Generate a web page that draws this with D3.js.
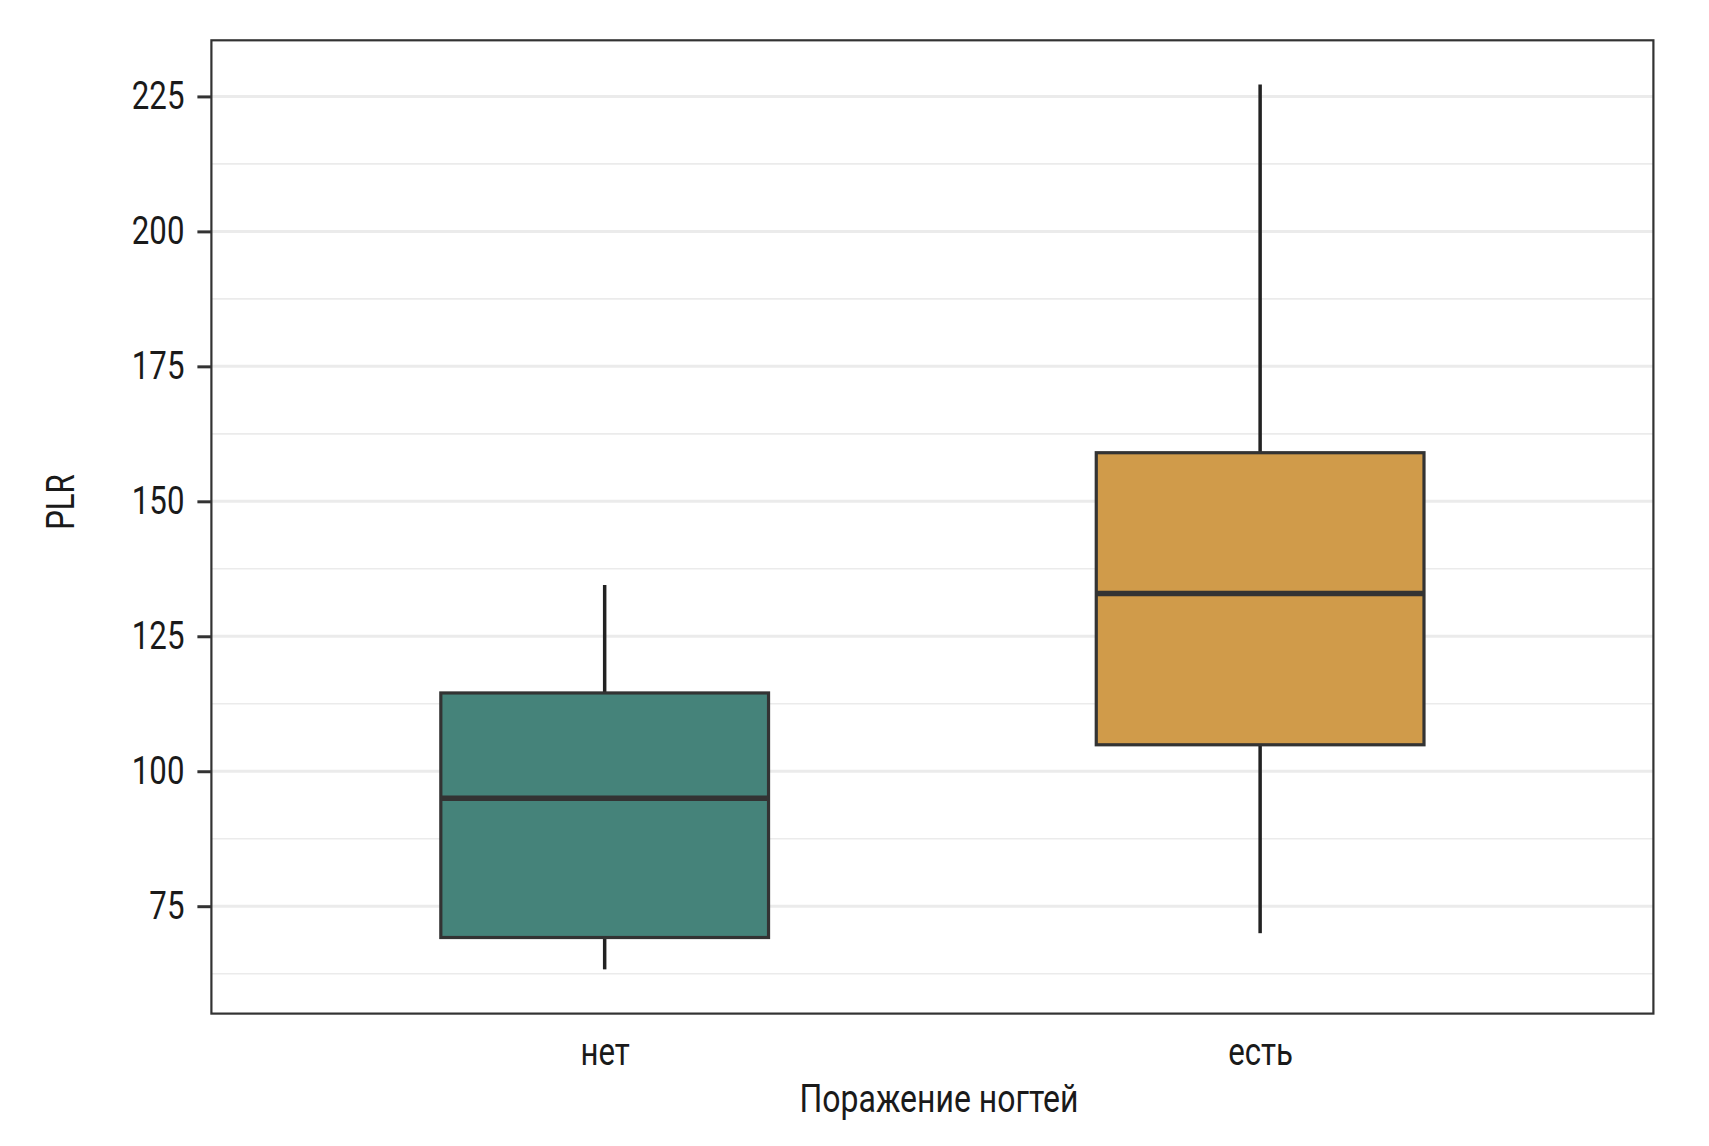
<!DOCTYPE html>
<html>
<head>
<meta charset="utf-8">
<script src="https://cdn.jsdelivr.net/npm/d3@7"></script>
<style>
  html, body { margin: 0; padding: 0; background: #ffffff; }
  svg { display: block; }
  text { font-family: Roboto, "Liberation Sans", sans-serif; fill: #1a1a1a; }
</style>
</head>
<body>
<script>
// ---- data ----
const categories = ["нет", "есть"];
const whiskerLow  = [63.3, 70.0];
const q1          = [69.2, 104.9];
const median      = [95.0, 132.9];
const q3          = [114.5, 159.0];
const whiskerHigh = [134.5, 227.2];
const fillColors  = ["#45837a", "#d09b4a"];
const yTicks      = [75, 100, 125, 150, 175, 200, 225];
const yMinorTicks = [62.5, 87.5, 112.5, 137.5, 162.5, 187.5, 212.5, 237.5];
const xTitle = "Поражение ногтей";
const yTitle = "PLR";

// ---- layout ----
const W = 1709, H = 1146;
const pLeft = 211.4, pRight = 1653.4, pTop = 40.3, pBottom = 1013.6;
const SX = 0.8;      // horizontal condensing of text
const FS = 39;

const svg = d3.select("body").append("svg").attr("width", W).attr("height", H);

const lo = d3.min(whiskerLow), hi = d3.max(whiskerHigh);
const pad = (hi - lo) * 0.05;
const y = d3.scaleLinear().domain([lo - pad, hi + pad]).range([pBottom, pTop]);
const x = d3.scalePoint().domain(categories).range([pLeft, pRight]).padding(0.6);
const boxW = x.step() * 0.5;

// panel grid
const g = svg.append("g");
g.selectAll("line.minor").data(yMinorTicks.filter(v => y(v) > pTop && y(v) < pBottom)).join("line")
  .attr("class", "minor")
  .attr("x1", pLeft).attr("x2", pRight)
  .attr("y1", d => y(d)).attr("y2", d => y(d))
  .attr("stroke", "#ebebeb").attr("stroke-width", 1.6);
g.selectAll("line.major").data(yTicks).join("line")
  .attr("class", "major")
  .attr("x1", pLeft).attr("x2", pRight)
  .attr("y1", d => y(d)).attr("y2", d => y(d))
  .attr("stroke", "#ebebeb").attr("stroke-width", 3);

// boxes
const idx = d3.range(categories.length);
const boxes = svg.append("g");
boxes.selectAll("line.wl").data(idx).join("line")
  .attr("class", "wl")
  .attr("x1", i => x(categories[i])).attr("x2", i => x(categories[i]))
  .attr("y1", i => y(whiskerLow[i])).attr("y2", i => y(q1[i]))
  .attr("stroke", "#222").attr("stroke-width", 3.5);
boxes.selectAll("line.wh").data(idx).join("line")
  .attr("class", "wh")
  .attr("x1", i => x(categories[i])).attr("x2", i => x(categories[i]))
  .attr("y1", i => y(whiskerHigh[i])).attr("y2", i => y(q3[i]))
  .attr("stroke", "#222").attr("stroke-width", 3.5);
boxes.selectAll("rect").data(idx).join("rect")
  .attr("x", i => x(categories[i]) - boxW / 2)
  .attr("width", boxW)
  .attr("y", i => y(q3[i]))
  .attr("height", i => y(q1[i]) - y(q3[i]))
  .attr("fill", i => fillColors[i])
  .attr("stroke", "#333333").attr("stroke-width", 3.2);
boxes.selectAll("line.med").data(idx).join("line")
  .attr("class", "med")
  .attr("x1", i => x(categories[i]) - boxW / 2).attr("x2", i => x(categories[i]) + boxW / 2)
  .attr("y1", i => y(median[i])).attr("y2", i => y(median[i]))
  .attr("stroke", "#333333").attr("stroke-width", 5.5);

// panel border
svg.append("rect").attr("x", pLeft).attr("y", pTop)
  .attr("width", pRight - pLeft).attr("height", pBottom - pTop)
  .attr("fill", "none").attr("stroke", "#333333").attr("stroke-width", 2.2);

// y axis
const yAxis = svg.append("g").attr("transform", `translate(${pLeft},0)`)
  .call(d3.axisLeft(y).tickValues(yTicks).tickSize(14).tickPadding(13).tickFormat(d3.format("d")));
yAxis.select(".domain").remove();
yAxis.selectAll(".tick line").attr("stroke", "#333333").attr("stroke-width", 3);
yAxis.selectAll(".tick text")
  .attr("font-size", FS).attr("fill", "#1a1a1a")
  .attr("x", -27 / SX)
  .attr("transform", `scale(${SX},1)`)
  .style("font-family", "Roboto, sans-serif");

// x axis
const xAxis = svg.append("g").attr("transform", `translate(0,${pBottom})`)
  .call(d3.axisBottom(x).tickSize(0).tickPadding(24));
xAxis.select(".domain").remove();
xAxis.selectAll(".tick text")
  .attr("font-size", FS).attr("fill", "#1a1a1a")
  .attr("transform", `scale(${SX},1)`)
  .style("font-family", "Roboto, sans-serif");

// titles
svg.append("text").attr("transform", `translate(939,1112) scale(0.82,1)`)
  .attr("text-anchor", "middle").attr("font-size", FS).text(xTitle);
svg.append("text").attr("transform", `translate(74,502) rotate(-90) scale(${SX},1)`)
  .attr("text-anchor", "middle").attr("font-size", FS).text(yTitle);
</script>
</body>
</html>
